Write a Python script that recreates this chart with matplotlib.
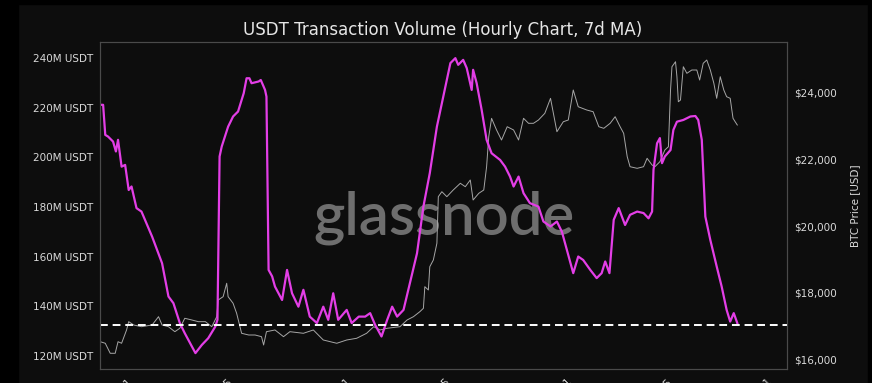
import pandas as pd
import matplotlib
matplotlib.use("Agg")
import matplotlib.pyplot as plt
import matplotlib.dates as mdates
from matplotlib.patches import Rectangle

# days since 2022-12-01, USDT transfer volume (7d MA, millions)
vol_days = [-2.5, -2.1, -1.8, -1.4, -0.7, -0.3, 0.0, 0.5, 1.0, 1.5, 1.9, 2.6, 3.3, 4.8,
            6.2, 7.1, 7.8, 8.7, 9.4, 10.9, 11.8, 12.7, 13.7, 14.0, 14.3, 14.6, 15.5, 16.2,
            16.9, 17.7, 18.1, 18.5, 18.8, 19.8, 20.1, 20.7, 20.9, 21.2, 21.7, 22.1, 23.1,
            23.8, 24.5, 25.4, 26.1, 27.0, 28.0, 28.9, 29.6, 30.3, 31.0, 32.2, 32.9, 33.9,
            34.8, 35.5, 36.2, 37.1, 37.9, 38.6, 39.3, 40.2, 41.1, 42.1, 43.0, 43.9, 44.9,
            45.8, 46.8, 47.5, 47.9, 48.6, 49.1, 49.8, 50.0, 50.5, 51.2, 51.9, 52.6, 53.8,
            54.5, 55.2, 55.7, 56.4, 57.1, 58.0, 59.2, 59.9, 60.9, 61.8, 62.5, 63.2, 64.1,
            64.8, 65.5, 66.5, 67.4, 68.1, 68.6, 69.2, 69.8, 70.5, 71.4, 72.1, 73.1, 74.0,
            74.7, 75.2, 75.4, 75.9, 76.3, 76.6, 77.0, 77.8, 78.2, 78.7, 79.6, 80.6, 81.3,
            81.7, 82.2, 82.7, 83.4, 84.3, 85.0, 85.7, 86.2, 86.7, 87.2]
vol_values = [221.1, 221.1, 209.0, 208.3, 206.3, 202.3, 207.0, 196.2, 196.9, 186.8, 188.2,
              179.5, 178.1, 168.0, 157.3, 143.9, 141.2, 133.2, 129.1, 121.1, 124.4, 127.1,
              131.8, 134.5, 200.3, 204.3, 212.3, 216.4, 218.4, 225.8, 231.8, 231.8, 229.8,
              230.5, 231.1, 227.1, 224.4, 154.6, 152.0, 147.9, 142.5, 154.6, 145.2, 139.8,
              146.6, 135.8, 133.2, 139.8, 134.5, 145.2, 134.5, 138.5, 133.2, 135.8, 135.8,
              137.2, 132.5, 127.8, 134.5, 139.8, 135.8, 138.5, 149.3, 161.3, 180.1, 193.6,
              212.3, 224.4, 237.9, 239.9, 237.2, 239.2, 235.9, 227.1, 235.2, 229.8, 219.1,
              207.0, 201.6, 198.9, 196.2, 192.2, 188.2, 192.2, 185.5, 181.5, 180.1, 174.1,
              172.1, 174.1, 170.0, 162.7, 153.3, 160.0, 158.6, 154.6, 151.3, 153.3, 158.0,
              153.3, 174.8, 179.5, 172.7, 176.8, 178.1, 177.5, 175.4, 178.1, 194.9, 205.6,
              207.7, 197.6, 200.3, 202.9, 211.0, 214.3, 215.0, 216.4, 216.6, 215.0, 207.0,
              176.1, 166.7, 156.0, 147.9, 138.5, 133.8, 137.2, 133.2]

# days since 2022-12-01, BTC price (USD)
btc_days = [-2.5, -1.8, -1.1, -0.4, 0.0, 0.5, 1.2, 1.5, 2.2, 3.3, 4.8, 5.7, 6.2, 7.1, 8.0,
            8.7, 9.4, 10.4, 11.3, 12.3, 13.2, 13.9, 14.1, 14.8, 15.3, 15.5, 16.2, 16.7, 17.4,
            18.4, 19.3, 20.2, 20.5, 20.9, 22.1, 23.3, 24.2, 26.1, 27.5, 28.9, 30.8, 32.2,
            33.6, 35.0, 36.0, 36.9, 37.9, 39.7, 40.7, 41.6, 42.5, 43.0, 43.2, 43.7, 43.9,
            44.4, 44.9, 45.1, 45.6, 46.3, 47.2, 48.2, 48.9, 49.6, 50.0, 50.8, 51.5, 51.9,
            52.2, 52.6, 53.3, 54.0, 54.8, 55.7, 56.4, 57.1, 57.8, 58.5, 59.2, 60.1, 60.9,
            61.8, 62.7, 63.4, 64.1, 64.8, 66.0, 66.9, 67.7, 68.4, 69.3, 70.0, 70.7, 71.2,
            71.7, 72.1, 73.1, 74.0, 74.5, 75.2, 75.6, 76.3, 77.0, 77.5, 77.8, 78.0, 78.5,
            78.7, 78.9, 79.2, 79.6, 80.1, 80.8, 81.5, 81.9, 82.4, 82.9, 83.4, 83.9, 84.3,
            84.8, 85.3, 85.7, 86.2, 86.6, 86.9, 87.2]
btc_values = [16546, 16499, 16200, 16200, 16546, 16499, 16896, 17144, 17045, 16994, 17045,
              17293, 17045, 16994, 16845, 16947, 17245, 17194, 17144, 17144, 16994, 17293,
              17791, 17890, 18290, 17890, 17693, 17394, 16797, 16746, 16746, 16696, 16448,
              16845, 16896, 16696, 16845, 16797, 16896, 16597, 16499, 16597, 16648, 16797,
              16994, 16896, 16947, 16994, 17194, 17293, 17442, 17543, 18188, 18090, 18785,
              18985, 19484, 20875, 21024, 20875, 21075, 21275, 21173, 21373, 20776, 20976,
              21075, 21770, 22666, 23215, 22866, 22567, 22964, 22866, 22567, 23215, 23066,
              23066, 23164, 23364, 23812, 22815, 23113, 23164, 24060, 23561, 23463, 23412,
              22964, 22916, 23066, 23263, 22964, 22767, 22069, 21770, 21722, 21770, 22021,
              21821, 21770, 21919, 22269, 22367, 24060, 24755, 24904, 24457, 23710, 23761,
              24755, 24558, 24657, 24657, 24358, 24857, 24955, 24657, 24260, 23812, 24457,
              24060, 23860, 23812, 23215, 23113, 23015]

threshold = 132.5
vol_ticks = [120, 140, 160, 180, 200, 220, 240]
btc_ticks = [16000, 18000, 20000, 22000, 24000]

start = pd.Timestamp("2022-12-01")
vol_dates = start + pd.to_timedelta(vol_days, unit="D")
btc_dates = start + pd.to_timedelta(btc_days, unit="D")

bg = "#0d0d0d"
txt = "#d9d9d9"

fig = plt.figure(figsize=(8.72, 3.83), dpi=100, facecolor=bg)
# black strips around the screenshot edge
fig.patches.append(Rectangle((0, 0), 18 / 872, 1, transform=fig.transFigure, color="black", zorder=-1))
fig.patches.append(Rectangle((0, 1 - 4 / 383), 1, 4 / 383, transform=fig.transFigure, color="black", zorder=-1))
fig.patches.append(Rectangle((1 - 4 / 872, 0), 4 / 872, 1, transform=fig.transFigure, color="black", zorder=-1))

ax = fig.add_axes([100 / 872, 1 - 369 / 383, 687 / 872, 327 / 383])
ax2 = ax.twinx()
ax.set_zorder(ax2.get_zorder() + 1)
ax.patch.set_visible(False)
ax2.set_facecolor("#0a0a0a")

ax2.text(0.5, 0.463, "glassnode", transform=ax2.transAxes, ha="center", va="center",
         fontsize=43, color="#6e6e6e", family="Lato", fontweight=600, zorder=0)

ax2.plot(btc_dates, btc_values, color="#a6a6a6", lw=0.7)
ax.plot(vol_dates, vol_values, color="#e33ee6", lw=1.6)
ax.axhline(threshold, color="white", lw=1.4, ls=(0, (4, 2.5)))

ax.set_ylim(114.7, 246.4)
ax2.set_ylim(15731, 25493)
ax.set_xlim(start + pd.Timedelta(days=-2.54), start + pd.Timedelta(days=94.2))

ax.set_yticks(vol_ticks)
ax.set_yticklabels([f"{v}M USDT" for v in vol_ticks])
ax2.set_yticks(btc_ticks)
ax2.set_yticklabels([f"${v:,}" for v in btc_ticks])
ax2.set_ylabel("BTC Price [USD]", color=txt, fontsize=7.5, labelpad=10)

ax.xaxis.set_major_locator(mdates.DayLocator(bymonthday=[1, 15]))
ax.xaxis.set_major_formatter(mdates.DateFormatter("%b %d"))
for lbl in ax.get_xticklabels():
    lbl.set_rotation(45)
    lbl.set_ha("center")

for a in (ax, ax2):
    a.tick_params(colors=txt, labelsize=7.5, length=0, pad=5)
    for s in a.spines.values():
        s.set_color("#4a4a4a")
        s.set_linewidth(0.8)
ax.tick_params(axis="x", pad=6)

fig.text(443 / 872, 1 - 30 / 383, "USDT Transaction Volume (Hourly Chart, 7d MA)",
         ha="center", va="center", color="#e6e6e6", fontsize=12)

fig.savefig("out.png", dpi=100, facecolor=fig.get_facecolor())
